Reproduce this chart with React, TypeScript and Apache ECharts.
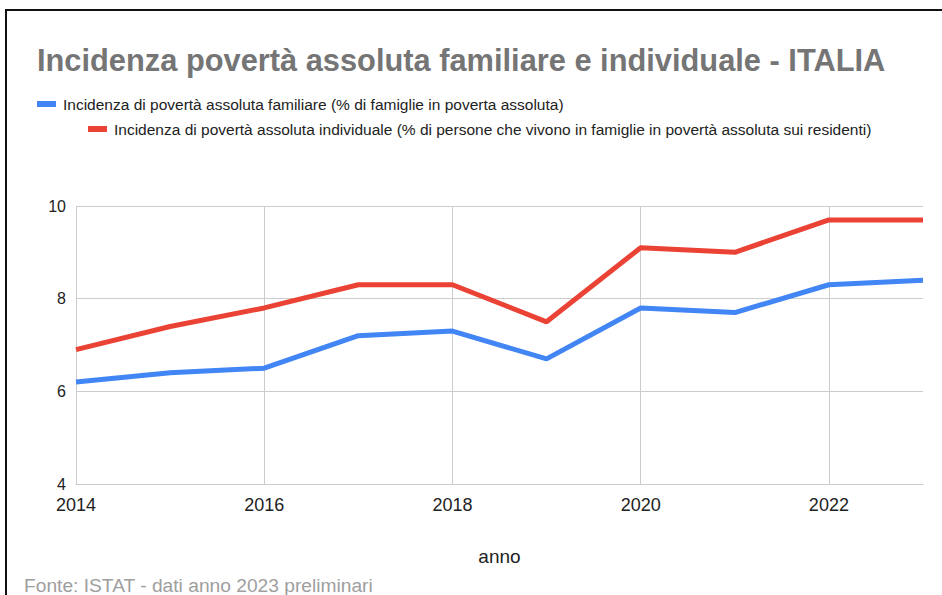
import React, { useEffect, useRef } from "react";
import * as echarts from "echarts";

const years = [2014, 2015, 2016, 2017, 2018, 2019, 2020, 2021, 2022, 2023];
const familiare = [6.2, 6.4, 6.5, 7.2, 7.3, 6.7, 7.8, 7.7, 8.3, 8.4];
const individuale = [6.9, 7.4, 7.8, 8.3, 8.3, 7.5, 9.1, 9.0, 9.7, 9.7];
const seriesNames = [
  "Incidenza di povertà assoluta familiare (% di famiglie in poverta assoluta)",
  "Incidenza di povertà assoluta individuale (% di persone che vivono in famiglie in povertà assoluta sui residenti)",
];
const titleText = "Incidenza povertà assoluta familiare e individuale - ITALIA";
const xAxisName = "anno";
const footerText = "Fonte: ISTAT - dati anno 2023 preliminari";

const FONT = "'Liberation Sans', Arial, sans-serif";

export default function App() {
  const ref = useRef<HTMLDivElement>(null);
  useEffect(() => {
    if (!ref.current) return;
    const chart = echarts.init(ref.current, undefined, { renderer: "svg" });
    const legendCommon = {
      orient: "horizontal" as const,
      itemWidth: 19,
      itemHeight: 6,
      icon: "rect",
      textStyle: { fontFamily: FONT, fontSize: 15.5, color: "#222", padding: [0, 0, 0, 2] },
    };
    chart.setOption({
      animation: false,
      backgroundColor: "#fff",
      title: {
        text: titleText,
        left: 32,
        top: 40,
        textStyle: { fontFamily: FONT, fontSize: 30.8, fontWeight: "bold", color: "#757575" },
      },
      legend: [
        { ...legendCommon, left: 32, top: 91, data: [seriesNames[0]] },
        { ...legendCommon, left: 83, top: 116, data: [seriesNames[1]] },
      ],
      grid: { left: 76, right: 19, top: 206, bottom: 111, containLabel: false },
      xAxis: {
        type: "value",
        min: 2014,
        max: 2023,
        interval: 2,
        name: xAxisName,
        nameLocation: "middle",
        nameGap: 63,
        nameTextStyle: { fontFamily: FONT, fontSize: 19, color: "#222" },
        axisLine: { show: true, lineStyle: { color: "#ccc" } },
        axisTick: { show: false },
        axisLabel: {
          showMaxLabel: false,
          formatter: (v: number) => String(v),
          fontFamily: FONT,
          fontSize: 18,
          color: "#222",
          margin: 12,
        },
        splitLine: { show: true, showMaxLine: false, lineStyle: { color: "#ccc" } },
      },
      yAxis: {
        type: "value",
        min: 4,
        max: 10,
        interval: 2,
        axisLine: { show: false },
        axisTick: { show: false },
        axisLabel: { fontFamily: FONT, fontSize: 16, color: "#222", margin: 10 },
        splitLine: { show: true, lineStyle: { color: "#ccc" } },
      },
      series: [
        {
          name: seriesNames[0],
          type: "line",
          data: years.map((y, i) => [y, familiare[i]]),
          showSymbol: false,
          symbol: "none",
          lineStyle: { width: 5, color: "#4285f4" },
          itemStyle: { color: "#4285f4" },
        },
        {
          name: seriesNames[1],
          type: "line",
          data: years.map((y, i) => [y, individuale[i]]),
          showSymbol: false,
          symbol: "none",
          lineStyle: { width: 5, color: "#ea4335" },
          itemStyle: { color: "#ea4335" },
        },
      ],
      graphic: [
        {
          type: "polyline",
          shape: { points: [[6, 600], [6, 10], [945, 10]] },
          style: { stroke: "#111", lineWidth: 2, fill: "none" },
          silent: true,
        },
        {
          type: "text",
          left: 24,
          top: 576,
          style: { text: footerText, fontFamily: FONT, fontSize: 19.2, fill: "#9e9e9e" },
          silent: true,
        },
      ],
    });
    return () => chart.dispose();
  }, []);
  return (
    <div
      ref={ref}
      style={{ position: "absolute", left: 0, top: 0, width: 942, height: 595, background: "#fff" }}
    />
  );
}
